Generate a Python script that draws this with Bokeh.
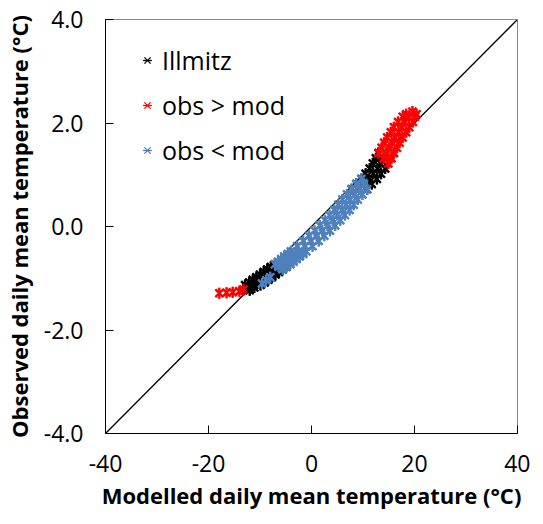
import math
from bokeh.plotting import figure
from bokeh.models import Legend, LegendItem, FixedTicker, Range1d, ColumnDataSource
from bokeh.embed import file_html
from bokeh.resources import INLINE

FONT = "Open Sans"

# axis ticks
x_ticks = [-40, -20, 0, 20, 40]
x_tick_labels = ["-40", "-20", "0", "20", "40"]
y_ticks = [-4, -2, 0, 2, 4]
y_tick_labels = ["-4.0", "-2.0", "0.0", "2.0", "4.0"]

# 1:1 reference line end points
diag_x = [-40, 40]
diag_y = [-4.0, 4.0]

# Illmitz (black)
ill_x = [13.0, 14.5, 16.0, 12.5, 14.0, 15.5, 11.9, 13.4, 14.9, 11.3, 12.8, 14.3,
         10.5, 12.0, 13.5, 9.7, 11.2, 12.7, 8.7, 10.2, 11.7, 7.8, 9.3, 10.8,
         -7.1, -5.6, -7.9, -6.4, -4.9, -8.6, -7.1, -5.6, -9.3, -7.8, -6.3,
         -10.0, -8.5, -7.0, -10.7, -9.2, -7.7, -11.4, -9.9, -8.4, -12.1, -10.6, -9.1,
         -12.9, -11.4, -9.9, -12.6, -11.1, -13.3, -12.0]
ill_y = [1.42, 1.42, 1.42, 1.32, 1.32, 1.32, 1.22, 1.22, 1.22, 1.12, 1.12, 1.12,
         1.02, 1.02, 1.02, 0.92, 0.92, 0.92, 0.82, 0.82, 0.82, 0.72, 0.72, 0.72,
         -0.73, -0.73, -0.78, -0.78, -0.78, -0.83, -0.83, -0.83, -0.88, -0.88, -0.88,
         -0.93, -0.93, -0.93, -0.98, -0.98, -0.98, -1.03, -1.03, -1.03, -1.08, -1.08, -1.08,
         -1.13, -1.13, -1.13, -1.18, -1.18, -1.23, -1.23]

# obs > mod (red)
hi_x = [19.6, 18.4, 20.4, 17.7, 18.9, 20.1, 16.8, 18.2, 19.7, 16.0, 17.5, 19.0,
        15.4, 16.9, 18.4, 14.7, 16.2, 17.7, 14.1, 15.6, 17.1, 13.6, 15.1, 16.6,
        13.0, 14.5, 16.0, 14.0, 15.5, 14.9,
        -17.9, -16.5, -15.3, -14.0, -13.2]
hi_y = [2.22, 2.17, 2.17, 2.12, 2.12, 2.12, 2.02, 2.02, 2.02, 1.92, 1.92, 1.92,
        1.82, 1.82, 1.82, 1.72, 1.72, 1.72, 1.62, 1.62, 1.62, 1.52, 1.52, 1.52,
        1.42, 1.42, 1.42, 1.32, 1.32, 1.22,
        -1.29, -1.28, -1.27, -1.25, -1.22]

# obs < mod (blue)
lo_x = [9.7, 8.7, 10.2, 7.8, 9.3, 10.8, 6.9, 8.4, 9.9, 6.0, 7.5, 9.0,
        5.2, 6.7, 8.2, 4.4, 5.9, 7.4, 3.5, 5.0, 6.5, 2.6, 4.1, 5.6,
        1.6, 3.1, 4.6, 0.6, 2.1, 3.6, -0.5, 1.0, 2.5, -1.6, -0.1, 1.4,
        -2.8, -1.3, 0.2, -4.0, -2.5, -1.0, -4.6, -3.1, -1.6, -5.3, -3.8, -2.3,
        -5.9, -4.4, -2.9, -6.5, -5.0, -3.5, -7.1, -5.6, -4.1, -6.4, -4.9, -5.6,
        -8.0, -8.8, -9.6]
lo_y = [0.92, 0.82, 0.82, 0.72, 0.72, 0.72, 0.62, 0.62, 0.62, 0.52, 0.52, 0.52,
        0.42, 0.42, 0.42, 0.32, 0.32, 0.32, 0.22, 0.22, 0.22, 0.12, 0.12, 0.12,
        0.02, 0.02, 0.02, -0.08, -0.08, -0.08, -0.18, -0.18, -0.18, -0.28, -0.28, -0.28,
        -0.38, -0.38, -0.38, -0.48, -0.48, -0.48, -0.53, -0.53, -0.53, -0.58, -0.58, -0.58,
        -0.63, -0.63, -0.63, -0.68, -0.68, -0.68, -0.73, -0.73, -0.73, -0.78, -0.78, -0.83,
        -0.98, -1.04, -1.10]

series = [
    ("Illmitz", ill_x, ill_y, "#000000"),
    ("obs > mod", hi_x, hi_y, "#FF0000"),
    ("obs < mod", lo_x, lo_y, "#4F81BD"),
]

p = figure(frame_width=412, frame_height=414,
           x_range=Range1d(-40, 40), y_range=Range1d(-4, 4),
           output_backend="svg", toolbar_location=None,
           min_border_left=100, min_border_right=13,
           min_border_top=19, min_border_bottom=87)

p.xgrid.visible = False
p.ygrid.visible = False
p.outline_line_color = "#898989"
p.outline_line_width = 1
p.background_fill_color = "white"
p.border_fill_color = "white"

p.line(diag_x, diag_y, line_color="black", line_width=1.3)

MS = 11
renderers = {}
order = [series[0], series[2], series[1]]
for name, xs, ys, col in order:
    src = ColumnDataSource(dict(x=xs, y=ys))
    # heavier underlay so the dense band of daily points reads as solid
    p.scatter("x", "y", source=src, marker="x", size=MS, line_color=col, line_width=2.4)
    p.scatter("x", "y", source=src, marker="dash", size=MS, angle=math.pi / 2,
              line_color=col, line_width=2.4)
    r1 = p.scatter("x", "y", source=src, marker="x", size=MS, line_color=col, line_width=1.3)
    r2 = p.scatter("x", "y", source=src, marker="dash", size=MS, angle=math.pi / 2,
                   line_color=col, line_width=1.3)
    renderers[name] = [r1, r2]

items = [LegendItem(label=name, renderers=renderers[name]) for name, *_ in series]
legend = Legend(items=items, location=(31, 266))
legend.label_text_font = FONT
legend.label_text_font_size = "25px"
legend.label_text_color = "#000000"
legend.glyph_width = 22
legend.glyph_height = 34
legend.label_height = 34
legend.spacing = 11
legend.padding = 0
legend.margin = 0
legend.label_standoff = 4
legend.border_line_alpha = 0
legend.background_fill_alpha = 0
p.add_layout(legend)

for ax, ticks, labels in ((p.xaxis[0], x_ticks, x_tick_labels), (p.yaxis[0], y_ticks, y_tick_labels)):
    ax.ticker = FixedTicker(ticks=ticks)
    ax.major_label_overrides = {t: l for t, l in zip(ticks, labels)}
    ax.major_tick_in = 8
    ax.major_tick_out = 0
    ax.minor_tick_in = 0
    ax.minor_tick_out = 0
    ax.axis_line_color = "black"
    ax.axis_line_width = 1
    ax.major_tick_line_color = "black"
    ax.major_label_text_font = FONT
    ax.major_label_text_font_size = "23px"
    ax.major_label_text_color = "#000000"
    ax.axis_label_text_font = FONT
    ax.axis_label_text_font_size = "22px"
    ax.axis_label_text_font_style = "bold"
    ax.axis_label_text_color = "#000000"

p.xaxis.axis_label = "Modelled daily mean temperature (°C)"
p.yaxis.axis_label = "Observed daily mean temperature (°C)"
p.xaxis.major_label_standoff = 21
p.xaxis.axis_label_standoff = 5
p.yaxis.major_label_standoff = 22
p.yaxis.axis_label_standoff = 7

open("out.html", "w").write(file_html(p, INLINE))
